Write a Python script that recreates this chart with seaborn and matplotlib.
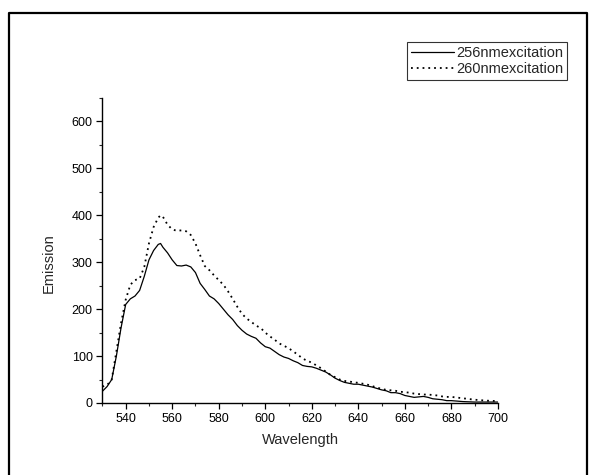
import numpy as np
import pandas as pd
import matplotlib
matplotlib.use("Agg")
import matplotlib.pyplot as plt
import seaborn as sns
from matplotlib.ticker import MultipleLocator
from matplotlib.lines import Line2D

wl_256 = [530, 532, 534, 536, 538, 540, 542, 544, 546, 548, 550, 552, 554, 555, 556, 558,
          560, 562, 564, 566, 568, 570, 572, 574, 576, 578, 580, 582, 584, 586, 588, 590,
          592, 594, 596, 598, 600, 602, 604, 606, 608, 610, 612, 614, 616, 618, 620, 622,
          624, 626, 628, 630, 632, 634, 636, 638, 640, 642, 644, 646, 648, 650, 652, 654,
          656, 658, 660, 662, 664, 666, 668, 670, 672, 674, 676, 678, 680, 685, 690, 695, 700]
em_256 = [25, 35, 50, 100, 160, 210, 222, 228, 240, 270, 305, 325, 338, 340, 332, 320,
          305, 293, 292, 294, 290, 278, 255, 242, 228, 222, 212, 200, 188, 178, 165, 155,
          147, 142, 138, 128, 120, 117, 110, 103, 98, 95, 90, 86, 80, 78, 77, 74,
          70, 66, 60, 53, 48, 44, 42, 40, 40, 38, 36, 34, 31, 28, 26, 22,
          22, 20, 16, 14, 12, 13, 14, 12, 9, 8, 7, 5, 5, 3, 2, 2, 2]

wl_260 = wl_256
em_260 = [35, 38, 50, 110, 170, 220, 252, 262, 265, 290, 340, 375, 395, 400, 397, 380,
          370, 367, 368, 366, 358, 340, 315, 292, 283, 272, 262, 252, 238, 222, 205, 190,
          180, 173, 165, 160, 150, 142, 135, 127, 122, 117, 110, 103, 95, 90, 86, 80,
          74, 67, 60, 55, 50, 47, 46, 44, 43, 41, 39, 36, 33, 30, 28, 27,
          26, 24, 23, 22, 20, 19, 18, 18, 17, 16, 14, 13, 13, 10, 7, 5, 4]

labels = ["256nmexcitation", "260nmexcitation"]
x_ticks = [540, 560, 580, 600, 620, 640, 660, 680, 700]
y_ticks = [0, 100, 200, 300, 400, 500, 600]

df = pd.concat([
    pd.DataFrame({"Wavelength": wl_256, "Emission": em_256, "series": labels[0]}),
    pd.DataFrame({"Wavelength": wl_260, "Emission": em_260, "series": labels[1]}),
])

sns.set_theme(style="ticks")
plt.rcParams["font.family"] = ["Liberation Sans", "DejaVu Sans"]

fig = plt.figure(figsize=(5.92, 4.75), dpi=100)
ax = fig.add_axes([0.173, 0.1516, 0.668, 0.642])

sns.lineplot(data=df, x="Wavelength", y="Emission", hue="series", style="series",
             palette=["black", "black"], dashes=[(None, None), (1, 3)],
             linewidth=1.0, ax=ax, legend=False, sort=False)
ax.lines[1].set_linestyle((0, (1, 2.2)))
ax.lines[1].set_linewidth(1.3)
ax.lines[0].set_linewidth(0.9)

ax.set_xlim(530, 700)
ax.set_ylim(0, 650)
ax.set_xticks(x_ticks)
ax.set_yticks(y_ticks)
ax.xaxis.set_minor_locator(MultipleLocator(10))
ax.yaxis.set_minor_locator(MultipleLocator(50))
ax.tick_params(which="major", direction="out", length=4, width=0.9, labelsize=9,
               colors="black", pad=3)
ax.tick_params(which="minor", direction="out", length=2.5, width=0.8)
for s in ["top", "right"]:
    ax.spines[s].set_visible(False)
for s in ["left", "bottom"]:
    ax.spines[s].set_linewidth(1.0)
    ax.spines[s].set_color("black")

ax.set_xlabel("Wavelength", fontsize=10.5, labelpad=6)
ax.set_ylabel("Emission", fontsize=10.5)
ax.yaxis.set_label_coords(-0.118, 0.46)

handles = [Line2D([], [], color="black", lw=0.9),
           Line2D([], [], color="black", lw=1.3, linestyle=(0, (1, 2.2)))]
leg = fig.legend(handles, labels, loc="upper right", bbox_to_anchor=(0.957, 0.911),
                 fontsize=10.5, frameon=True, fancybox=False, shadow=False,
                 handlelength=3.0, handletextpad=0.1, borderpad=0.25,
                 labelspacing=0.15, borderaxespad=0)
leg.get_frame().set_edgecolor("black")
leg.get_frame().set_linewidth(0.8)

# outer frame (left, top, right; bottom cropped)
fx = [8.5 / 592, 8.5 / 592, 587 / 592, 587 / 592]
fy = [-0.1, 1 - 12.5 / 475, 1 - 12.5 / 475, -0.1]
fig.add_artist(Line2D(fx, fy, transform=fig.transFigure, color="black", lw=1.6))

fig.savefig("out.png", dpi=100)
